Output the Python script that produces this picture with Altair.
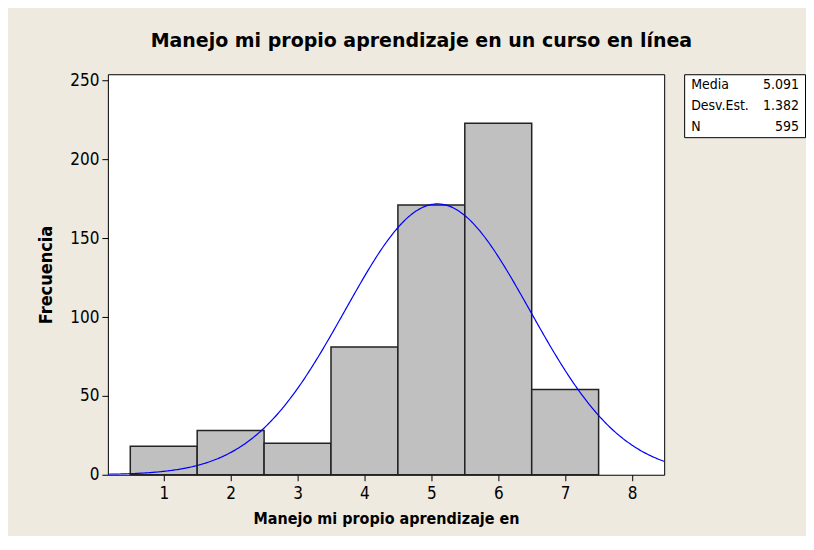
import altair as alt
import pandas as pd

# ---- data ----
categories = [1, 2, 3, 4, 5, 6, 7]
frequencies = [18, 28, 20, 81, 171, 223, 54]
x_ticks = [1, 2, 3, 4, 5, 6, 7, 8]
y_ticks = [0, 50, 100, 150, 200, 250]
stat_labels = ["Media", "Desv.Est.", "N"]
stat_values = ["5.091", "1.382", "595"]
fit_mean = 5.091
fit_sd = 1.382
fit_n = 595
bin_width = 1

FONT = "DejaVu Sans Condensed, DejaVu Sans"
TITLE_FONT = "DejaVu Sans"
BG = "#EEEAE0"

hist_df = pd.DataFrame({"value": categories, "freq": frequencies})
stats_df = pd.DataFrame({"label": stat_labels, "val": stat_values})

xscale = alt.Scale(domain=[0.165, 8.48], nice=False, zero=False)
yscale = alt.Scale(domain=[0, 254], nice=False)

x_axis = alt.Axis(values=x_ticks, title="Manejo mi propio aprendizaje en", grid=False,
                  domain=False, tickColor="black", tickSize=6, labelFontSize=17,
                  labelColor="black", labelFont=FONT, labelPadding=5,
                  titleFont=FONT, titleFontSize=16, titleFontWeight="bold",
                  titleColor="black", titlePadding=9, format="d")
y_axis = alt.Axis(values=y_ticks, title="Frecuencia", grid=False, domain=False,
                  tickColor="black", tickSize=6, labelFontSize=17, labelColor="black",
                  labelFont=FONT, labelPadding=3, titleFont=FONT, titleFontSize=18,
                  titleFontWeight="bold", titleColor="black", titlePadding=14)

bars = alt.Chart(hist_df).transform_calculate(
    lo=f"datum.value - {bin_width}/2", hi=f"datum.value + {bin_width}/2"
).mark_rect(fill="#C0C0C0", stroke="#222222", strokeWidth=1.5).encode(
    x=alt.X("lo:Q", scale=xscale, axis=x_axis),
    x2="hi:Q",
    y=alt.Y("freq:Q", scale=yscale, axis=y_axis),
    y2=alt.datum(0),
)

curve = alt.Chart(alt.sequence(0.165, 8.49, 0.02, as_="x")).transform_calculate(
    y=f"{fit_n}*{bin_width}/({fit_sd}*sqrt(2*PI))*exp(-0.5*pow((datum.x-{fit_mean})/{fit_sd},2))"
).mark_line(color="#0000FF", strokeWidth=1.2, clip=True).encode(
    x=alt.X("x:Q", scale=xscale),
    y=alt.Y("y:Q", scale=yscale),
)

main = alt.layer(bars, curve).properties(width=557, height=401)

stats_base = alt.Chart(stats_df).encode(
    y=alt.Y("label:N", sort=stat_labels, axis=None,
            scale=alt.Scale(paddingInner=0, paddingOuter=0))
)
left_txt = stats_base.mark_text(align="left", fontSize=14, font=FONT, color="black").encode(
    x=alt.value(7), text="label:N")
right_txt = stats_base.mark_text(align="right", fontSize=14, font=FONT, color="black").encode(
    x=alt.value(115), text="val:N")
stats = alt.layer(left_txt, right_txt).properties(width=121, height=63)

chart = alt.hconcat(main, stats, spacing=18).properties(
    title=alt.TitleParams("Manejo mi propio aprendizaje en un curso en línea",
                          fontSize=19, fontWeight="bold", font=TITLE_FONT, color="black",
                          anchor="middle", offset=20),
    background=BG,
    padding={"left": 29, "top": 23, "right": 0, "bottom": 8},
).configure_view(stroke="black", strokeWidth=1, fill="white")

chart.save("out.html", embed_options={"renderer": "svg", "actions": False})
